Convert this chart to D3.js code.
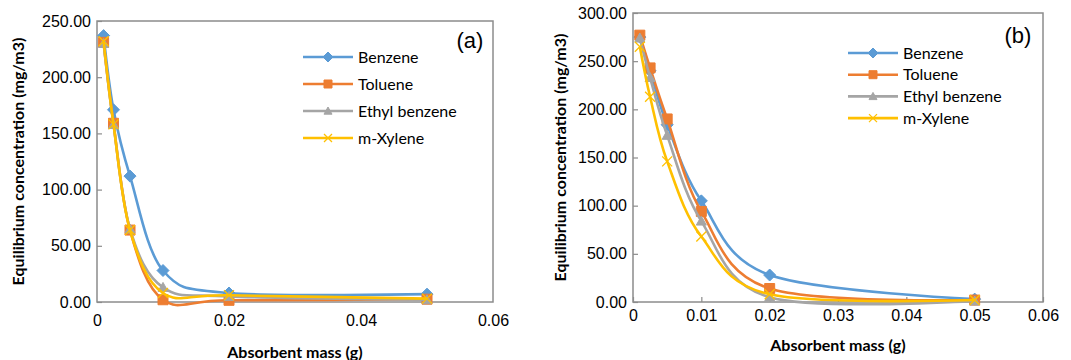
<!DOCTYPE html>
<html>
<head>
<meta charset="utf-8">
<script src="https://cdn.jsdelivr.net/npm/d3@7"></script>
<style>
  body { margin: 0; background: #fff; }
  svg { display: block; font-family: Lato, "Open Sans", sans-serif; }
  .tick text { font-size: 16px; fill: #000; }
  .axisTitle { font-size: 16px; font-weight: bold; fill: #000; }
  .legendText { font-size: 16px; fill: #000; }
</style>
</head>
<body>
<svg id="chart" width="1071" height="360"></svg>
<script>
// absorbent mass (g)
const massValues = [0.001, 0.0025, 0.005, 0.01, 0.02, 0.05];
const seriesNames = ["Benzene", "Toluene", "Ethyl benzene", "m-Xylene"];
const seriesColors = ["#5B9BD5", "#ED7D31", "#A5A5A5", "#FFC000"];
const seriesMarkers = ["diamond", "square", "triangle", "cross"];

// panel (a) equilibrium concentration (mg/m3)
const benzeneA = [237, 171, 112, 28, 8, 7];
const tolueneA = [231, 159, 64, 2, 1.5, 2.5];
const ethylbenzeneA = [230, 158, 65, 13, 5, 2];
const xyleneA = [232, 158, 64, 8, 6, 3];

// panel (b)
const benzeneB = [275, 240, 184, 105, 28, 3];
const tolueneB = [277, 243, 190, 94, 14, 2];
const ethylbenzeneB = [274, 233, 173, 84, 5, 1];
const xyleneB = [265, 213, 146, 68, 8, 2];

const xTicksA = [0, 0.02, 0.04, 0.06];
const xTicksB = [0, 0.01, 0.02, 0.03, 0.04, 0.05, 0.06];

const svg = d3.select("#chart");

function markerPath(type, s) {
    if (type === "diamond") return `M0,${-s}L${s},0L0,${s}L${-s},0Z`;
    if (type === "square") return `M${-s},${-s}H${s}V${s}H${-s}Z`;
    if (type === "triangle") return `M0,${-s}L${s},${s * 0.8}H${-s}Z`;
    return `M${-s},${-s}L${s},${s}M${s},${-s}L${-s},${s}`;
}

function drawMarker(g, type, color, s) {
    g.append("path")
        .attr("d", markerPath(type, s))
        .attr("fill", type === "cross" ? "none" : color)
        .attr("stroke", color)
        .attr("stroke-width", type === "cross" ? 1.3 : 1);
}

function drawPanel(opt) {
    let x = d3.scaleLinear().domain([0, 0.06]).range([opt.left, opt.right]);
    let y = d3.scaleLinear().domain([0, opt.yMax]).range([opt.bottom, opt.top]);
    let g = svg.append("g");

    // plot frame
    g.append("rect")
        .attr("x", opt.left).attr("y", opt.top)
        .attr("width", opt.right - opt.left).attr("height", opt.bottom - opt.top)
        .attr("fill", "none").attr("stroke", "#8c8c8c").attr("stroke-width", 1.5);

    //Axes:
    let yAxis = g.append("g")
        .attr("transform", `translate(${opt.left},0)`)
        .call(d3.axisLeft(y).tickValues(d3.range(0, opt.yMax + 1, 50))
            .tickFormat(d3.format(".2f")).tickSize(-5).tickPadding(6));
    yAxis.select(".domain").remove();
    yAxis.selectAll(".tick line").attr("stroke", "#8c8c8c").attr("stroke-width", 1.2);

    let xAxis = g.append("g")
        .attr("transform", `translate(0,${opt.bottom})`)
        .call(d3.axisBottom(x).tickValues(opt.xTicks)
            .tickFormat(d => d === 0 ? "0" : d3.format(".2~f")(d)).tickSize(opt.xTickSize).tickPadding(opt.xPad));
    xAxis.select(".domain").remove();
    xAxis.selectAll(".tick line").attr("stroke", "#8c8c8c").attr("stroke-width", 1.2);

    // axis titles
    g.append("text").attr("class", "axisTitle")
        .attr("text-anchor", "middle")
        .attr("transform", `translate(${opt.yTitleX},${(opt.top + opt.bottom) / 2}) rotate(-90)`)
        .attr("dy", "0.35em")
        .text("Equilibrium concentration (mg/m3)");
    g.append("text").attr("class", "axisTitle")
        .attr("text-anchor", "middle")
        .attr("x", opt.xTitleX).attr("y", opt.xTitleY)
        .attr("dy", "0.35em")
        .text("Absorbent mass (g)");

    // panel letter
    g.append("text")
        .attr("x", opt.letterX).attr("y", opt.letterY)
        .attr("dy", "0.35em")
        .attr("text-anchor", "middle")
        .style("font-size", "22px")
        .style("font-family", "'Liberation Sans', Arial, sans-serif")
        .text(opt.letter);

    let line = d3.line()
        .x((d, i) => x(massValues[i]))
        .y(d => y(d))
        .curve(d3.curveCatmullRom.alpha(0));

    opt.series.forEach((vals, k) => {
        let s = g.append("g");
        s.append("path")
            .attr("d", line(vals))
            .attr("fill", "none")
            .attr("stroke", seriesColors[k])
            .attr("stroke-width", 2.6);
        vals.forEach((v, i) => {
            let m = s.append("g").attr("transform", `translate(${x(massValues[i])},${y(v)})`);
            drawMarker(m, seriesMarkers[k], seriesColors[k], seriesMarkers[k] === "diamond" ? 6 : 5);
        });
    });

    // legend
    seriesNames.forEach((name, k) => {
        let ly = opt.legendY + k * opt.legendStep;
        let lg = g.append("g");
        lg.append("line")
            .attr("x1", opt.legendX).attr("x2", opt.legendX + 50)
            .attr("y1", ly).attr("y2", ly)
            .attr("stroke", seriesColors[k]).attr("stroke-width", 2.6);
        let m = lg.append("g").attr("transform", `translate(${opt.legendX + 25},${ly})`);
        drawMarker(m, seriesMarkers[k], seriesColors[k], seriesMarkers[k] === "diamond" ? 5 : 4);
        lg.append("text").attr("class", "legendText")
            .attr("x", opt.legendX + 55).attr("y", ly)
            .attr("dy", "0.35em")
            .text(name);
    });
}

drawPanel({
    left: 97, right: 493, top: 21, bottom: 302, yMax: 250,
    xTicks: xTicksA, xTickSize: 0, xPad: 13,
    yTitleX: 18, xTitleX: 295, xTitleY: 352,
    letter: "(a)", letterX: 470, letterY: 40,
    legendX: 303, legendY: 57, legendStep: 27,
    series: [benzeneA, tolueneA, ethylbenzeneA, xyleneA]
});

drawPanel({
    left: 633, right: 1043, top: 13, bottom: 302, yMax: 300,
    xTicks: xTicksB, xTickSize: -5, xPad: 8,
    yTitleX: 560, xTitleX: 838, xTitleY: 345,
    letter: "(b)", letterX: 1018, letterY: 35,
    legendX: 848, legendY: 53, legendStep: 21.7,
    series: [benzeneB, tolueneB, ethylbenzeneB, xyleneB]
});
</script>
</body>
</html>
